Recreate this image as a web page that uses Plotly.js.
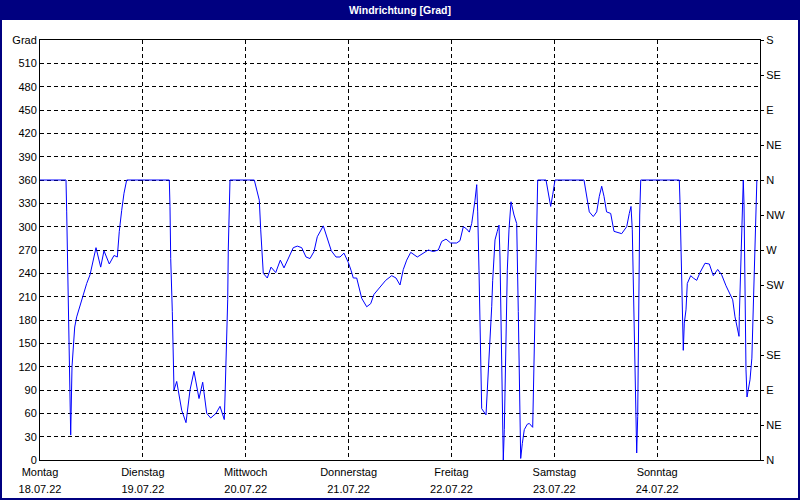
<!DOCTYPE html>
<html>
<head>
<meta charset="utf-8">
<script src="https://cdn.plot.ly/plotly-3.0.1.min.js"></script>
<style>
  html, body { margin: 0; padding: 0; background: #fff; }
  #chart { width: 800px; height: 500px; }
</style>
</head>
<body>
<div id="chart"></div>
<script>
// Hours since Monday 18.07.22 00:00
const hours = [
  0, 6.07, 6.23, 6.46, 6.84, 7.0, 7.16, 7.47, 7.77, 8.1, 8.56, 9.33, 10.1, 10.9, 11.67, 12.44, 13.07, 14.16, 14.93, 16.17, 17.27, 18.04, 18.5, 19.06, 19.6, 20.23,
  30.17, 30.33, 30.5, 30.87, 31.1, 31.27, 31.9, 32.5, 33.06, 34.07, 35.0, 35.93, 37.1, 37.96, 38.9, 39.83, 41.07, 42.0, 43.0, 43.17, 43.56, 43.8, 43.93, 44.17, 44.33,
  50.0, 50.56, 51.17, 51.5, 51.8, 52.1, 53.04, 53.9, 55.0, 56.07, 56.93, 58.17, 59.1, 60.04, 61.06, 62.07, 63.0, 63.93, 64.7, 66.1, 67.04, 67.97, 69.07, 70.0, 70.93, 71.94, 72.57, 73.1, 73.9, 74.5, 75.06, 76.23, 77.16, 77.93, 79.33, 80.66, 82.06, 83.07, 84.0, 84.77, 85.56, 86.5, 88.04, 89.44, 90.6, 91.77, 92.94, 93.73, 94.73, 95.83, 97.23, 98.0, 98.77, 99.56, 100.17,
  100.73, 101.1, 101.5, 101.9, 102.13, 102.43, 102.67, 102.83, 103.06, 104.07, 104.6, 105.0, 105.4, 105.63, 105.93, 106.17, 106.7, 107.1, 107.33, 107.57, 107.87, 107.96, 108.1, 108.34, 108.66, 109.04, 109.43, 109.9, 110.6, 111.23, 111.6, 111.84, 112.0, 112.16, 112.54, 113.0, 113.7, 114.17, 114.96, 115.1, 115.34, 115.66, 115.9, 116.13,
  118.07, 118.6, 119.16, 119.63, 119.93, 120.17,
  126.93, 127.33, 127.7, 128.17, 129.1, 129.9, 130.5, 131.06, 131.6, 132.2, 133.16, 133.63, 133.93, 135.73, 136.34, 136.9, 137.5, 137.9, 138.2, 138.43, 138.67, 138.9, 139.07, 139.23, 139.46, 139.6, 139.77, 139.93, 140.17,
  149.17, 149.33, 149.57, 149.8, 149.97, 150.1, 150.34, 150.73, 151.04, 151.83, 152.44, 153.23, 154.0, 155.17, 156.17, 157.1, 158.13, 159.06, 160.07, 161.0, 161.63, 162.17, 162.7, 163.1, 163.17, 163.73, 163.97, 164.1, 164.27, 164.57, 164.73, 164.97, 165.27, 165.67, 166.1, 166.33, 166.63, 166.93, 167.1, 167.27
];
// Wind direction in degrees
const degrees = [
  360, 360, 319, 238, 154, 73, 32, 120, 152, 171, 184, 199, 212, 227, 238, 259, 273, 248, 269, 252, 263, 261, 294, 321, 343, 360,
  360, 326, 259, 191, 124, 90, 101, 79, 64, 48, 90, 114, 79, 100, 60, 54, 60, 69, 52, 81, 150, 206, 270, 330, 360,
  360, 347, 334, 296, 270, 240, 234, 248, 241, 257, 247, 261, 273, 275, 273, 261, 259, 268, 287, 301, 285, 269, 261, 261, 266, 254, 244, 234, 234, 219, 208, 197, 201, 213, 222, 231, 237, 234, 225, 245, 257, 267, 261, 266, 270, 268, 270, 281, 284, 279, 279, 282, 300, 297, 293,
  304, 317, 334, 354, 319, 244, 171, 101, 66, 58, 111, 150, 197, 231, 264, 283, 294, 302, 261, 189, 114, 39, 0, 39, 150, 244, 296, 332, 315, 304, 191, 116, 41, 2, 21, 39, 46, 47, 42, 81, 137, 240, 321, 360,
  360, 343, 326, 341, 355, 360,
  360, 347, 330, 319, 313, 319, 339, 352, 339, 319, 317, 304, 294, 291, 296, 300, 317, 326, 296, 231, 165, 99, 43, 9, 56, 150, 227, 315, 360,
  360, 332, 279, 223, 180, 141, 176, 193, 227, 237, 234, 231, 241, 253, 252, 237, 245, 238, 224, 213, 206, 184, 171, 159, 184, 283, 334, 360, 330, 184, 116, 81, 90, 103, 131, 180, 236, 309, 334, 360
];

const dayTicks = [0, 24, 48, 72, 96, 120, 144];
const dayNames = ["Montag", "Dienstag", "Mittwoch", "Donnerstag", "Freitag", "Samstag", "Sonntag"];
const dayDates = ["18.07.22", "19.07.22", "20.07.22", "21.07.22", "22.07.22", "23.07.22", "24.07.22"];

const leftTicks = [0, 30, 60, 90, 120, 150, 180, 210, 240, 270, 300, 330, 360, 390, 420, 450, 480, 510, 540];
const leftLabels = ["0", "30", "60", "90", "120", "150", "180", "210", "240", "270", "300", "330", "360", "390", "420", "450", "480", "510", "Grad"];
const rightTicks = [0, 45, 90, 135, 180, 225, 270, 315, 360, 405, 450, 495, 540];
const rightLabels = ["N", "NE", "E", "SE", "S", "SW", "W", "NW", "N", "NE", "E", "SE", "S"];

const FONT = "Liberation Sans Narrow, Liberation Sans, Arial, sans-serif";
const navy = "#000080";

const traces = [
  {
    x: hours, y: degrees, type: "scatter", mode: "lines",
    line: { color: "#0000ff", width: 1 },
    hoverinfo: "skip", xaxis: "x", yaxis: "y"
  },
  { x: [null], y: [null], type: "scatter", mode: "lines", xaxis: "x2", yaxis: "y2", hoverinfo: "skip", showlegend: false }
];

const gridStyle = { showgrid: true, gridcolor: "#000", gridwidth: 1, griddash: "4px,3px", zeroline: false };

const layout = {
  width: 800, height: 500,
  margin: { l: 40, r: 40, t: 40, b: 40, pad: 0 },
  paper_bgcolor: "#fff", plot_bgcolor: "#fff",
  showlegend: false,
  font: { family: FONT, size: 11, color: "#000" },
  title: {
    text: "<b>Windrichtung [Grad]</b>",
    font: { family: "Liberation Sans, Arial, sans-serif", size: 10.5, color: "#fff" },
    x: 0.5, xref: "container", xanchor: "center",
    y: 0.98, yref: "container", yanchor: "middle"
  },
  xaxis: Object.assign({}, gridStyle, {
    range: [0, 168], tickmode: "array", tickvals: dayTicks, ticktext: dayNames,
    showline: true, linecolor: "#000", linewidth: 1, mirror: true, ticks: "",
    ticklabelstandoff: 2, fixedrange: true
  }),
  xaxis2: {
    overlaying: "x", side: "bottom", anchor: "y", range: [0, 168],
    tickmode: "array", tickvals: dayTicks, ticktext: dayDates,
    showgrid: false, zeroline: false, showline: false, ticks: "",
    ticklabelstandoff: 21, fixedrange: true
  },
  yaxis: Object.assign({}, gridStyle, {
    range: [0, 540], tickmode: "array", tickvals: leftTicks, ticktext: leftLabels,
    showline: true, linecolor: "#000", linewidth: 1, mirror: true, ticks: "",
    ticklabelstandoff: 0, fixedrange: true
  }),
  yaxis2: {
    overlaying: "y", side: "right", anchor: "x", range: [0, 540],
    tickmode: "array", tickvals: rightTicks, ticktext: rightLabels,
    showgrid: false, zeroline: false, showline: false,
    ticks: "outside", ticklen: 3, tickcolor: "#000", tickwidth: 1,
    fixedrange: true
  },
  shapes: [
    { type: "rect", xref: "paper", yref: "paper", x0: -40/720, x1: 760/720, y0: 440/420, y1: 460/420,
      fillcolor: navy, line: { width: 0 }, layer: "below" },
    { type: "rect", xref: "paper", yref: "paper", x0: -39/720, x1: 759/720, y0: -39/420, y1: 459/420,
      fillcolor: "rgba(0,0,0,0)", line: { color: navy, width: 2 }, layer: "above" }
  ]
};

Plotly.newPlot("chart", traces, layout, { displayModeBar: false, staticPlot: true });
</script>
</body>
</html>
